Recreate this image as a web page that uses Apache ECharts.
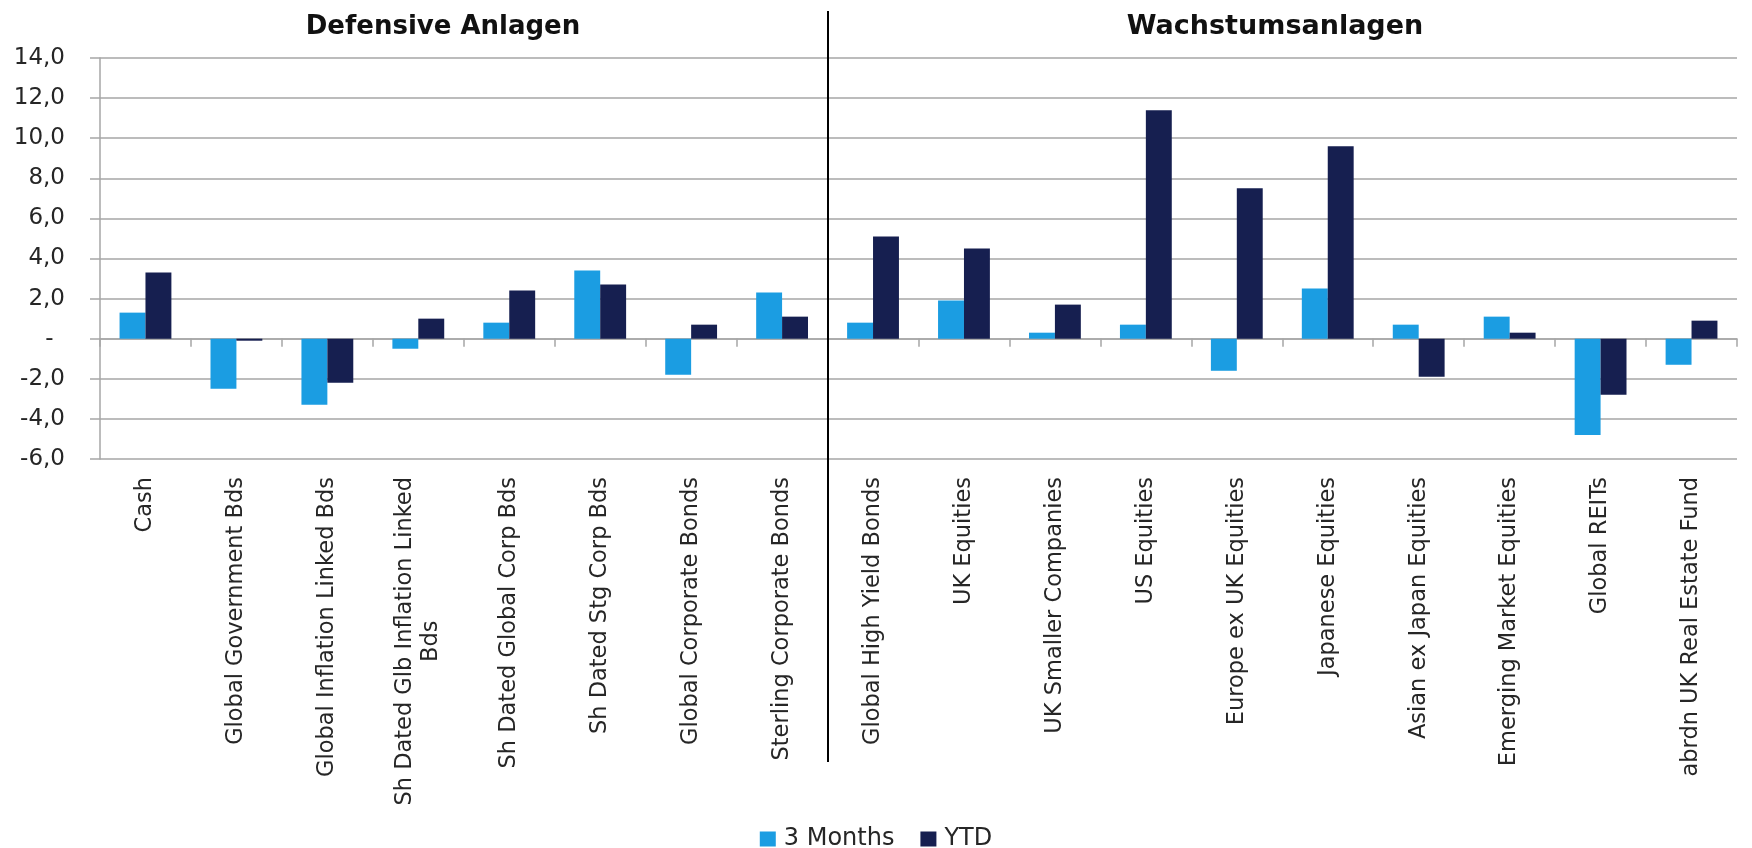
<!DOCTYPE html>
<html>
<head>
<meta charset="utf-8">
<script src="https://cdn.jsdelivr.net/npm/echarts@6/dist/echarts.min.js"></script>
<style>
html,body{margin:0;padding:0;background:#fff;}
#chart{width:1752px;height:848px;}
</style>
</head>
<body>
<div id="chart"></div>
<script>
const categories = [
  'Cash', 'Global Government Bds', 'Global Inflation Linked Bds',
  'Sh Dated Glb Inflation Linked Bds', 'Sh Dated Global Corp Bds', 'Sh Dated Stg Corp Bds',
  'Global Corporate Bonds', 'Sterling Corporate Bonds',
  'Global High Yield Bonds', 'UK Equities', 'UK Smaller Companies', 'US Equities',
  'Europe ex UK Equities', 'Japanese Equities', 'Asian ex Japan Equities',
  'Emerging Market Equities', 'Global REITs', 'abrdn UK Real Estate Fund'
];
const seriesNames = ['3 Months', 'YTD'];
const months3 = [1.3, -2.5, -3.3, -0.5, 0.8, 3.4, -1.8, 2.3, 0.8, 1.9, 0.3, 0.7, -1.6, 2.5, 0.7, 1.1, -4.8, -1.3];
const ytd = [3.3, -0.1, -2.2, 1.0, 2.4, 2.7, 0.7, 1.1, 5.1, 4.5, 1.7, 11.4, 7.5, 9.6, -1.9, 0.3, -2.8, 0.9];
const groupTitles = ['Defensive Anlagen', 'Wachstumsanlagen'];
const defensiveCount = 8;
const yMin = -6, yMax = 14, yStep = 2;

const FONT = 'DejaVu Sans';
const GRAY = '#A6A6A6';
const TXT = '#262626';

const chart = echarts.init(document.getElementById('chart'), null, {renderer: 'canvas'});

const option = {
  backgroundColor: '#ffffff',
  animation: false,
  title: [
    {text: groupTitles[0], left: 438, top: 6, textAlign: 'center',
     textStyle: {fontFamily: FONT, fontWeight: 'bold', fontSize: 26, color: '#111', lineHeight: 32}},
    {text: groupTitles[1], left: 1270, top: 6, textAlign: 'center',
     textStyle: {fontFamily: FONT, fontWeight: 'bold', fontSize: 27, color: '#111', lineHeight: 32}}
  ],
  legend: {
    data: seriesNames,
    top: 822,
    left: 'center',
    itemWidth: 16,
    itemHeight: 15,
    itemGap: 26,
    icon: 'rect',
    textStyle: {fontFamily: FONT, fontSize: 24, color: TXT, padding: [0, 0, 0, 3]}
  },
  grid: {left: 100, right: 15, top: 58, bottom: 389, containLabel: false, outerBoundsMode: 'none'},
  xAxis: [
    {
      type: 'category',
      data: categories,
      position: 'top',
      axisLine: {show: true, onZero: true, lineStyle: {color: GRAY, width: 1.5}},
      axisTick: {show: true, inside: true, length: 8, interval: 0, lineStyle: {color: GRAY, width: 1.5}},
      axisLabel: {show: false},
      splitLine: {show: false}
    },
    {
      type: 'category',
      data: categories,
      position: 'bottom',
      axisLine: {show: false, onZero: false},
      axisTick: {show: false},
      axisLabel: {
        show: true,
        interval: 0,
        rotate: 90,
        margin: 18,
        fontFamily: FONT,
        fontSize: 22.5,
        color: TXT,
        formatter: function (v) {
          if (v === 'Sh Dated Glb Inflation Linked Bds') {
            return '{c|Sh Dated Glb Inflation Linked}\n{c|Bds}';
          }
          return v;
        },
        rich: {c: {align: 'center', fontFamily: FONT, fontSize: 22.5, color: TXT, lineHeight: 26}}
      }
    }
  ],
  yAxis: {
    type: 'value',
    min: yMin,
    max: yMax,
    interval: yStep,
    axisLine: {show: true, lineStyle: {color: GRAY, width: 1.5}},
    axisTick: {show: true, length: 10, lineStyle: {color: GRAY, width: 1.5}},
    splitLine: {show: true, lineStyle: {color: GRAY, width: 1.5}},
    axisLabel: {
      margin: 35,
      fontFamily: FONT,
      fontSize: 23,
      color: TXT,
      formatter: function (v) {
        if (Math.abs(v) < 1e-9) return '-\u2002';
        return v.toFixed(1).replace('.', ',');
      }
    }
  },
  series: [
    {name: seriesNames[0], type: 'bar', xAxisIndex: 0, data: months3,
     itemStyle: {color: '#1B9DE2'}, barGap: '0%', barCategoryGap: '43%'},
    {name: seriesNames[1], type: 'bar', xAxisIndex: 0, data: ytd,
     itemStyle: {color: '#161F50'}, barGap: '0%', barCategoryGap: '43%'}
  ]
};

chart.setOption(option);

// divider line between the two groups, positioned from the category axis scale
const xa = chart.convertToPixel({xAxisIndex: 0}, defensiveCount - 1);
const xb = chart.convertToPixel({xAxisIndex: 0}, defensiveCount);
const divX = Math.round((xa + xb) / 2);
chart.setOption({
  graphic: [{
    type: 'line',
    shape: {x1: divX, y1: 11, x2: divX, y2: 762},
    style: {stroke: '#000', lineWidth: 2},
    z: 100
  }]
});
</script>
</body>
</html>
